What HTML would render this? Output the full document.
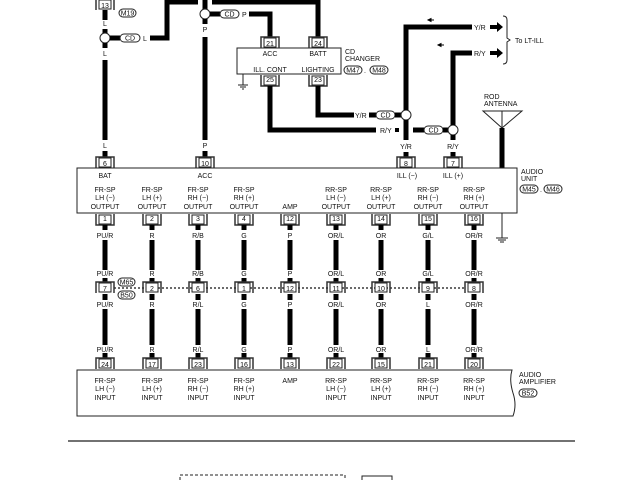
<!DOCTYPE html>
<html><head><meta charset="utf-8"><style>
html,body{margin:0;padding:0;background:#fff}
svg{display:block}
text{font-family:"Liberation Sans",sans-serif;font-size:7px;fill:#111}
.w{stroke:#000;stroke-width:5;fill:none}
.t{stroke:#222;stroke-width:1;fill:none}
</style></head><body>
<svg width="640" height="480" viewBox="0 0 640 480" xmlns="http://www.w3.org/2000/svg">
<defs>
<g id="cn"><path d="M-9,11 V0 H9 V11" fill="none" stroke="#333" stroke-width="1.5"/><rect x="-6" y="1" width="12" height="9" fill="#fff" stroke="#222" stroke-width="1"/></g>
</defs>

<path class="w" d="M105,10 V20"/>
<use href="#cn" x="105" y="-1"/><text x="105" y="8" text-anchor="middle">13</text>
<rect x="119" y="9" width="17" height="8" rx="4" fill="#fff" stroke="#222"/><text x="127.5" y="15.5" text-anchor="middle" font-size="6">M19</text>
<text x="105" y="26" text-anchor="middle">L</text>
<path class="w" d="M105,29 V33"/>
<circle cx="105" cy="38" r="5" fill="#fff" stroke="#222"/>
<path class="w" d="M110,38 H120"/>
<rect x="120" y="34" width="20" height="8" rx="4" fill="#fff" stroke="#222"/><text x="130" y="40.5" text-anchor="middle" font-size="6">CD</text>
<text x="143" y="41">L</text>
<path class="w" d="M150,38 H167 V2 H198"/>
<path class="w" d="M105,43 V48"/>
<text x="105" y="56" text-anchor="middle">L</text>
<path class="w" d="M105,60 V140"/>
<text x="105" y="148" text-anchor="middle">L</text>
<path class="w" d="M105,151 V157"/>
<use href="#cn" x="105" y="157"/><text x="105" y="166" text-anchor="middle">6</text>

<path class="w" d="M205,0 V9"/>
<circle cx="205" cy="14" r="5" fill="#fff" stroke="#222"/>
<path class="w" d="M210,14 H220"/>
<rect x="220" y="10" width="19" height="8" rx="4" fill="#fff" stroke="#222"/><text x="229.5" y="16.5" text-anchor="middle" font-size="6">CD</text>
<text x="242" y="17">P</text>
<path class="w" d="M249,14 H270 V40"/>
<path class="w" d="M212,2 H318 V40"/>
<path class="w" d="M205,19 V24"/>
<text x="205" y="32" text-anchor="middle">P</text>
<path class="w" d="M205,37 V140"/>
<text x="205" y="148" text-anchor="middle">P</text>
<path class="w" d="M205,151 V157"/>
<use href="#cn" x="205" y="157"/><text x="205" y="166" text-anchor="middle">10</text>

<rect x="237" y="48" width="104" height="26" fill="#fff" stroke="#222"/>
<use href="#cn" x="270" y="37"/><text x="270" y="46" text-anchor="middle">21</text>
<use href="#cn" x="318" y="37"/><text x="318" y="46" text-anchor="middle">24</text>
<g transform="translate(270,86) scale(1,-1)"><use href="#cn"/></g><text x="270" y="82" text-anchor="middle">25</text>
<g transform="translate(318,86) scale(1,-1)"><use href="#cn"/></g><text x="318" y="82" text-anchor="middle">23</text>
<text x="270" y="56" text-anchor="middle">ACC</text>
<text x="318" y="56" text-anchor="middle">BATT</text>
<text x="270" y="72" text-anchor="middle">ILL. CONT</text>
<text x="318" y="72" text-anchor="middle">LIGHTING</text>
<path class="t" d="M243,74 V85 M238,85 H248 M240,87 H246 M242,89 H244"/>
<text x="345" y="54">CD</text><text x="345" y="61">CHANGER</text>
<rect x="344" y="66" width="18" height="8" rx="4" fill="#fff" stroke="#222"/><text x="353" y="72.5" text-anchor="middle" font-size="6">M47</text>
<text x="364" y="73">.</text>
<rect x="370" y="66" width="18" height="8" rx="4" fill="#fff" stroke="#222"/><text x="379" y="72.5" text-anchor="middle" font-size="6">M48</text>

<path class="w" d="M318,86 V115 H354"/>
<text x="355" y="118">Y/R</text>
<path class="w" d="M369,115 H376"/>
<rect x="376" y="111" width="19" height="8" rx="4" fill="#fff" stroke="#222"/><text x="385.5" y="117.5" text-anchor="middle" font-size="6">CD</text>
<path class="w" d="M395,115 H401"/>
<circle cx="406" cy="115" r="5" fill="#fff" stroke="#222"/>
<path class="w" d="M270,86 V130 H376"/>
<text x="380" y="133">R/Y</text>
<rect x="395" y="128" width="4" height="4" fill="#000"/>
<path class="w" d="M413,130 H424"/>
<rect x="424" y="126" width="19" height="8" rx="4" fill="#fff" stroke="#222"/><text x="433.5" y="132.5" text-anchor="middle" font-size="6">CD</text>
<path class="w" d="M443,130 H448"/>
<circle cx="453" cy="130" r="5" fill="#fff" stroke="#222"/>
<path class="w" d="M406,110 V27 H472"/>
<path class="w" d="M453,125 V53 H472"/>
<text x="474" y="30">Y/R</text><text x="474" y="56">R/Y</text>
<path d="M490,25 H497 V22 L503,27 L497,32 V29 H490Z" fill="#000"/>
<path d="M490,51 H497 V48 L503,53 L497,58 V55 H490Z" fill="#000"/>
<path d="M428,20 H434 M428,20 l3,-1.5 v3z" stroke="#000" fill="#000"/>
<path d="M438,45 H444 M438,45 l3,-1.5 v3z" stroke="#000" fill="#000"/>
<path class="t" d="M503,16 Q507,16 507,20 V38 L510,40 L507,42 V60 Q507,64 503,64"/>
<text x="515" y="43">To LT-ILL</text>
<path class="w" d="M406,120 V140"/>
<text x="406" y="149" text-anchor="middle">Y/R</text>
<path class="w" d="M406,152 V157"/>
<use href="#cn" x="406" y="157"/><text x="406" y="166" text-anchor="middle">8</text>
<path class="w" d="M453,135 V140"/>
<text x="453" y="149" text-anchor="middle">R/Y</text>
<path class="w" d="M453,152 V157"/>
<use href="#cn" x="453" y="157"/><text x="453" y="166" text-anchor="middle">7</text>

<text x="484" y="99">ROD</text><text x="484" y="106">ANTENNA</text>
<path class="t" d="M483,111 H522 L502,128 Z M502,111 V128"/>
<path class="w" d="M502,128 V168"/>

<rect x="77" y="168" width="440" height="45" fill="#fff" stroke="#222"/>
<text x="105" y="178" text-anchor="middle">BAT</text>
<text x="205" y="178" text-anchor="middle">ACC</text>
<text x="407" y="178" text-anchor="middle">ILL (−)</text>
<text x="453" y="178" text-anchor="middle">ILL (+)</text>
<text x="521" y="174">AUDIO</text><text x="521" y="181">UNIT</text>
<rect x="520" y="185" width="18" height="8" rx="4" fill="#fff" stroke="#222"/><text x="529" y="191.5" text-anchor="middle" font-size="6">M45</text>
<text x="540" y="192">.</text>
<rect x="544" y="185" width="18" height="8" rx="4" fill="#fff" stroke="#222"/><text x="553" y="191.5" text-anchor="middle" font-size="6">M46</text>
<path class="t" d="M502,213 V238 M496,238 H508 M498,240 H506 M500,242 H504"/>

<g text-anchor="middle">
<text x="105" y="192">FR-SP</text><text x="105" y="200">LH (−)</text><text x="105" y="209">OUTPUT</text>
<text x="152" y="192">FR-SP</text><text x="152" y="200">LH (+)</text><text x="152" y="209">OUTPUT</text>
<text x="198" y="192">FR-SP</text><text x="198" y="200">RH (−)</text><text x="198" y="209">OUTPUT</text>
<text x="244" y="192">FR-SP</text><text x="244" y="200">RH (+)</text><text x="244" y="209">OUTPUT</text>
<text x="290" y="209">AMP</text>
<text x="336" y="192">RR-SP</text><text x="336" y="200">LH (−)</text><text x="336" y="209">OUTPUT</text>
<text x="381" y="192">RR-SP</text><text x="381" y="200">LH (+)</text><text x="381" y="209">OUTPUT</text>
<text x="428" y="192">RR-SP</text><text x="428" y="200">RH (−)</text><text x="428" y="209">OUTPUT</text>
<text x="474" y="192">RR-SP</text><text x="474" y="200">RH (+)</text><text x="474" y="209">OUTPUT</text>
</g>

<path d="M114,288 H465" stroke="#111" stroke-width="1.3" stroke-dasharray="2,2"/>
<rect x="118" y="278" width="17" height="8" rx="4" fill="#fff" stroke="#222"/><text x="126.5" y="284.5" text-anchor="middle" font-size="6">M65</text>
<rect x="118" y="291" width="17" height="8" rx="4" fill="#fff" stroke="#222"/><text x="126.5" y="297.5" text-anchor="middle" font-size="6">B50</text>

<g text-anchor="middle">
<g transform="translate(105,0)">
<g transform="translate(0,225) scale(1,-1)"><use href="#cn"/></g><text y="221">1</text>
<path class="w" d="M0,225 V230 M0,240 V270 M0,278 V282 M0,294 V300 M0,309 V345 M0,353 V358"/>
<text y="238">PU/R</text><text y="276">PU/R</text><text y="307">PU/R</text><text y="352">PU/R</text>
<use href="#cn" y="282"/><rect x="-6" y="283" width="12" height="9" fill="#fff" stroke="#222"/><text y="291">7</text>
<use href="#cn" y="358"/><text y="367">24</text>
</g>
<g transform="translate(152,0)">
<g transform="translate(0,225) scale(1,-1)"><use href="#cn"/></g><text y="221">2</text>
<path class="w" d="M0,225 V230 M0,240 V270 M0,278 V282 M0,294 V300 M0,309 V345 M0,353 V358"/>
<text y="238">R</text><text y="276">R</text><text y="307">R</text><text y="352">R</text>
<use href="#cn" y="282"/><rect x="-6" y="283" width="12" height="9" fill="#fff" stroke="#222"/><text y="291">2</text>
<use href="#cn" y="358"/><text y="367">17</text>
</g>
<g transform="translate(198,0)">
<g transform="translate(0,225) scale(1,-1)"><use href="#cn"/></g><text y="221">3</text>
<path class="w" d="M0,225 V230 M0,240 V270 M0,278 V282 M0,294 V300 M0,309 V345 M0,353 V358"/>
<text y="238">R/B</text><text y="276">R/B</text><text y="307">R/L</text><text y="352">R/L</text>
<use href="#cn" y="282"/><rect x="-6" y="283" width="12" height="9" fill="#fff" stroke="#222"/><text y="291">6</text>
<use href="#cn" y="358"/><text y="367">23</text>
</g>
<g transform="translate(244,0)">
<g transform="translate(0,225) scale(1,-1)"><use href="#cn"/></g><text y="221">4</text>
<path class="w" d="M0,225 V230 M0,240 V270 M0,278 V282 M0,294 V300 M0,309 V345 M0,353 V358"/>
<text y="238">G</text><text y="276">G</text><text y="307">G</text><text y="352">G</text>
<use href="#cn" y="282"/><rect x="-6" y="283" width="12" height="9" fill="#fff" stroke="#222"/><text y="291">1</text>
<use href="#cn" y="358"/><text y="367">16</text>
</g>
<g transform="translate(290,0)">
<g transform="translate(0,225) scale(1,-1)"><use href="#cn"/></g><text y="221">12</text>
<path class="w" d="M0,225 V230 M0,240 V270 M0,278 V282 M0,294 V300 M0,309 V345 M0,353 V358"/>
<text y="238">P</text><text y="276">P</text><text y="307">P</text><text y="352">P</text>
<use href="#cn" y="282"/><rect x="-6" y="283" width="12" height="9" fill="#fff" stroke="#222"/><text y="291">12</text>
<use href="#cn" y="358"/><text y="367">13</text>
</g>
<g transform="translate(336,0)">
<g transform="translate(0,225) scale(1,-1)"><use href="#cn"/></g><text y="221">13</text>
<path class="w" d="M0,225 V230 M0,240 V270 M0,278 V282 M0,294 V300 M0,309 V345 M0,353 V358"/>
<text y="238">OR/L</text><text y="276">OR/L</text><text y="307">OR/L</text><text y="352">OR/L</text>
<use href="#cn" y="282"/><rect x="-6" y="283" width="12" height="9" fill="#fff" stroke="#222"/><text y="291">11</text>
<use href="#cn" y="358"/><text y="367">22</text>
</g>
<g transform="translate(381,0)">
<g transform="translate(0,225) scale(1,-1)"><use href="#cn"/></g><text y="221">14</text>
<path class="w" d="M0,225 V230 M0,240 V270 M0,278 V282 M0,294 V300 M0,309 V345 M0,353 V358"/>
<text y="238">OR</text><text y="276">OR</text><text y="307">OR</text><text y="352">OR</text>
<use href="#cn" y="282"/><rect x="-6" y="283" width="12" height="9" fill="#fff" stroke="#222"/><text y="291">10</text>
<use href="#cn" y="358"/><text y="367">15</text>
</g>
<g transform="translate(428,0)">
<g transform="translate(0,225) scale(1,-1)"><use href="#cn"/></g><text y="221">15</text>
<path class="w" d="M0,225 V230 M0,240 V270 M0,278 V282 M0,294 V300 M0,309 V345 M0,353 V358"/>
<text y="238">G/L</text><text y="276">G/L</text><text y="307">L</text><text y="352">L</text>
<use href="#cn" y="282"/><rect x="-6" y="283" width="12" height="9" fill="#fff" stroke="#222"/><text y="291">9</text>
<use href="#cn" y="358"/><text y="367">21</text>
</g>
<g transform="translate(474,0)">
<g transform="translate(0,225) scale(1,-1)"><use href="#cn"/></g><text y="221">16</text>
<path class="w" d="M0,225 V230 M0,240 V270 M0,278 V282 M0,294 V300 M0,309 V345 M0,353 V358"/>
<text y="238">OR/R</text><text y="276">OR/R</text><text y="307">OR/R</text><text y="352">OR/R</text>
<use href="#cn" y="282"/><rect x="-6" y="283" width="12" height="9" fill="#fff" stroke="#222"/><text y="291">8</text>
<use href="#cn" y="358"/><text y="367">20</text>
</g>
</g>

<path d="M77,370 H512 Q509,380 513,393 Q517,405 513,416 H77 Z" fill="#fff" stroke="#222"/>
<g text-anchor="middle">
<text x="105" y="383">FR-SP</text><text x="105" y="391">LH (−)</text><text x="105" y="400">INPUT</text>
<text x="152" y="383">FR-SP</text><text x="152" y="391">LH (+)</text><text x="152" y="400">INPUT</text>
<text x="198" y="383">FR-SP</text><text x="198" y="391">RH (−)</text><text x="198" y="400">INPUT</text>
<text x="244" y="383">FR-SP</text><text x="244" y="391">RH (+)</text><text x="244" y="400">INPUT</text>
<text x="290" y="383">AMP</text>
<text x="336" y="383">RR-SP</text><text x="336" y="391">LH (−)</text><text x="336" y="400">INPUT</text>
<text x="381" y="383">RR-SP</text><text x="381" y="391">LH (+)</text><text x="381" y="400">INPUT</text>
<text x="428" y="383">RR-SP</text><text x="428" y="391">RH (−)</text><text x="428" y="400">INPUT</text>
<text x="474" y="383">RR-SP</text><text x="474" y="391">RH (+)</text><text x="474" y="400">INPUT</text>
</g>
<text x="519" y="377">AUDIO</text><text x="519" y="384">AMPLIFIER</text>
<rect x="519" y="389" width="18" height="8" rx="4" fill="#fff" stroke="#222"/><text x="528" y="395.5" text-anchor="middle" font-size="6">B52</text>

<path d="M68,441 H575" stroke="#444" stroke-width="1.5"/>
<path d="M180,480 V475 H345 V480" fill="none" stroke="#222" stroke-dasharray="3,2"/>
<path d="M362,480 V476 H392 V480" fill="none" stroke="#222"/>
</svg>
</body></html>
